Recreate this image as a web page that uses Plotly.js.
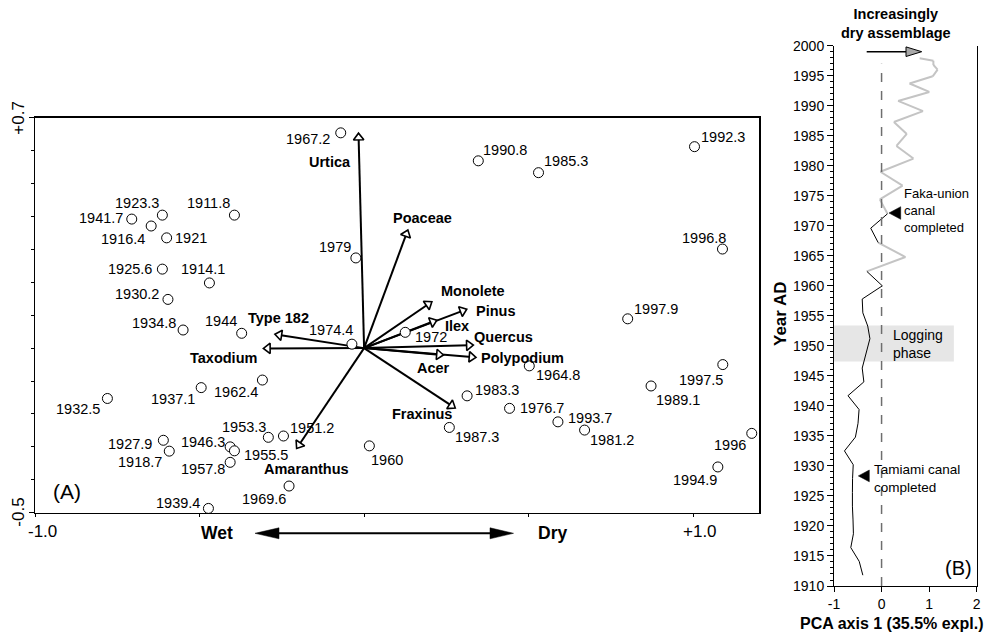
<!DOCTYPE html>
<html>
<head>
<meta charset="utf-8">
<script src="https://cdn.plot.ly/plotly-3.0.1.min.js"></script>
<style>html,body{margin:0;padding:0;background:#fff;}#chart{width:989px;height:634px;}</style>
</head>
<body>
<div id="chart"></div>
<script>
// ---------------- DATA ----------------
// sample ages (year AD), ordered by age
const years = [1911.8, 1914.1, 1916.4, 1918.7, 1921, 1923.3, 1925.6, 1927.9, 1930.2, 1932.5,
  1934.8, 1937.1, 1939.4, 1941.7, 1944, 1946.3, 1951.2, 1953.3, 1955.5, 1957.8,
  1960, 1962.4, 1964.8, 1967.2, 1969.6, 1972, 1974.4, 1976.7, 1979, 1981.2,
  1983.3, 1985.3, 1987.3, 1989.1, 1990.8, 1992.3, 1993.7, 1994.9, 1996, 1996.8, 1997.5, 1997.9];
// PCA axis 1 sample scores
const pc1 = [-0.394, -0.470, -0.647, -0.592, -0.600, -0.613, -0.613, -0.610, -0.596, -0.780,
  -0.550, -0.495, -0.473, -0.706, -0.372, -0.407, -0.245, -0.291, -0.394, -0.407,
  0.016, -0.309, 0.502, -0.071, -0.228, 0.125, -0.037, 0.442, -0.025, 0.670,
  0.313, 0.530, 0.259, 0.872, 0.347, 1.004, 0.589, 1.075, 1.178, 1.089, 1.090, 0.801];
// PCA axis 2 sample scores
const pc2 = [0.404, 0.198, 0.371, -0.313, 0.335, 0.404, 0.240, -0.280, 0.148, -0.153,
  0.055, -0.120, -0.487, 0.392, 0.045, -0.300, -0.267, -0.271, -0.312, -0.347,
  -0.297, -0.097, -0.054, 0.654, -0.419, 0.048, 0.012, -0.183, 0.274, -0.249,
  -0.145, 0.533, -0.241, -0.115, 0.569, 0.612, -0.224, -0.361, -0.259, 0.301, -0.050, 0.089];
// species loadings (arrow tips)
const species = ['Urtica', 'Poaceae', 'Monolete', 'Pinus', 'Ilex', 'Quercus', 'Polypodium',
  'Acer', 'Fraxinus', 'Amaranthus', 'Taxodium', 'Type 182'];
const loadX = [-0.017, 0.133, 0.206, 0.312, 0.221, 0.332, 0.340, 0.241, 0.277, -0.205, -0.306, -0.271];
const loadY = [0.653, 0.359, 0.141, 0.118, 0.085, 0.009, -0.028, -0.021, -0.182, -0.305, -0.001, 0.042];
// periods drawn in grey on the axis-1 profile
const greyPeriods = [[1962.4, 1967.2], [1972, 1997.9]];
// tick labels
const xTickVals = [-1, 1], xTickText = ['-1.0', '+1.0'];
const yTickVals = [-0.5, 0.7], yTickText = ['-0.5', '+0.7'];
const x2TickVals = [-1, 0, 1, 2], x2TickText = ['-1', '0', '1', '2'];

// ---------------- STYLE ----------------
const FONT = 'Liberation Sans, Arial, Helvetica, sans-serif';
// label offsets (px, dx right, dy down) for each sample label
const labelDx = [-25.8, -6.1, -28.2, -29.3, 24.8, -25.1, -32, -33.8, -30.8, -29,
  -28.8, -27.7, -30.5, -30.5, -21, -27.2, 28.9, -24.1, 31.2, -27.2,
  17.2, -26.8, 28.5, -33.2, -24.8, 25.8, -20.5, 32.4, -20.7, 27,
  30, 27, 27.9, 26.8, 27, 28.7, 31.8, -23.2, -22, -18.6, -21.4, 28];
const labelDy = [-12, -14.4, 13, 10.7, 0.6, -11.7, 0, 3.3, -5.3, 10.7,
  -6.7, 11, -5.6, -0.7, -12.6, -5, -8.3, -10.6, 4.3, 7,
  14.3, 11.7, 9.3, 6.6, 13.3, 5, -14, 0, -11, 10,
  -5.7, -11.7, 10, 13.6, -10.7, -10, -3.4, 13.3, 11.7, -11.3, 15.7, -9.7];
const spDx = [-28.3, 15, 41, 29, 20, 30, 47, -10, -33.3, 10, -40, 3.3];
const spDy = [28.4, -11.7, -10.7, 1.7, 6, -7.7, 1, 13.3, 5.6, 20, 10, -16.6];

const W = 989, H = 634;
const X1 = [35, 759], Y1 = [117.7, 512.7];     // pixel box of panel A
const X2 = [834, 976.7], Y2 = [45.7, 586];     // pixel box of panel B
const px = v => v / W, py = v => 1 - v / H;

// ---------------- PANEL A: arrows ----------------
const xr = [-1, 1.2], yr = [-0.5, 0.7];
const scale = (X1[1] - X1[0]) / (xr[1] - xr[0]); // px per unit
const headSize = 9, headR = headSize / 2 / scale;
const arrX = [], arrY = [], headX = [], headY = [], headA = [];
species.forEach((s, i) => {
  const tx = loadX[i], ty = loadY[i];
  const len = Math.hypot(tx, ty);
  const ux = tx / len, uy = ty / len;
  const cx = tx - ux * headR, cy = ty - uy * headR;
  arrX.push(0, cx, null); arrY.push(0, cy, null);
  headX.push(cx); headY.push(cy);
  headA.push(Math.atan2(ux, uy) * 180 / Math.PI);
});

const traces = [];
traces.push({type: 'scatter', mode: 'lines', x: arrX, y: arrY, xaxis: 'x', yaxis: 'y',
  line: {color: '#000', width: 2}, hoverinfo: 'skip'});
traces.push({type: 'scatter', mode: 'markers', x: headX, y: headY, xaxis: 'x', yaxis: 'y',
  marker: {symbol: 'triangle-up', size: headSize, angle: headA, angleref: 'up',
    color: '#fff', line: {color: '#000', width: 1.6}}, hoverinfo: 'skip'});
traces.push({type: 'scatter', mode: 'markers', x: pc1, y: pc2, xaxis: 'x', yaxis: 'y',
  cliponaxis: false,
  marker: {symbol: 'circle', size: 10, color: '#fff', line: {color: '#000', width: 1}},
  hoverinfo: 'skip'});

// ---------------- PANEL B: profile ----------------
const inGrey = (a, b) => greyPeriods.some(p => a >= p[0] && b <= p[1]);
const bx = [], by = [], gx = [], gy = [];
for (let i = 0; i < years.length - 1; i++) {
  const g = inGrey(years[i], years[i + 1]);
  (g ? gx : bx).push(pc1[i], pc1[i + 1], null);
  (g ? gy : by).push(years[i], years[i + 1], null);
}
traces.push({type: 'scatter', mode: 'lines', x: gx, y: gy, xaxis: 'x2', yaxis: 'y2',
  line: {color: '#c4c4c4', width: 2}, hoverinfo: 'skip'});
traces.push({type: 'scatter', mode: 'lines', x: bx, y: by, xaxis: 'x2', yaxis: 'y2',
  line: {color: '#000', width: 1}, hoverinfo: 'skip'});

// ---------------- ANNOTATIONS ----------------
const ann = [];
years.forEach((yv, i) => {
  ann.push({x: pc1[i], y: pc2[i], xref: 'x', yref: 'y', text: String(yv), showarrow: false,
    xanchor: 'center', yanchor: 'middle', xshift: labelDx[i], yshift: -labelDy[i],
    font: {family: FONT, size: 14.5, color: '#000'}});
});
species.forEach((s, i) => {
  ann.push({x: loadX[i], y: loadY[i], xref: 'x', yref: 'y', text: '<b>' + s + '</b>', showarrow: false,
    xanchor: 'center', yanchor: 'middle', xshift: spDx[i], yshift: -spDy[i],
    font: {family: FONT, size: 14.5, color: '#000'}});
});
xTickVals.forEach((v, i) => {
  ann.push({x: v, y: py(531), xref: 'x', yref: 'paper', text: xTickText[i], showarrow: false,
    xanchor: 'center', yanchor: 'middle', xshift: 7, font: {family: FONT, size: 17, color: '#000'}});
});
yTickVals.forEach((v, i) => {
  ann.push({x: px(19), y: v, xref: 'paper', yref: 'y', text: yTickText[i], showarrow: false,
    textangle: -90, xanchor: 'center', yanchor: 'middle', font: {family: FONT, size: 17, color: '#000'}});
});
const txt = (x, y, t, o) => Object.assign({x: px(x), y: py(y), xref: 'paper', yref: 'paper', text: t,
  showarrow: false, xanchor: 'center', yanchor: 'middle', font: {family: FONT, size: 14, color: '#000'}}, o || {});
ann.push(txt(216.7, 533.3, '<b>Wet</b>', {font: {family: FONT, size: 17.5, color: '#000'}}));
ann.push(txt(552.8, 533.3, '<b>Dry</b>', {font: {family: FONT, size: 17.5, color: '#000'}}));
ann.push(txt(66.7, 491.7, '(A)', {font: {family: FONT, size: 21, color: '#000'}}));
ann.push(txt(896, 24, '<b>Increasingly<br>dry assemblage</b>', {font: {family: FONT, size: 14.5, color: '#000'}}));
ann.push(txt(780, 314, '<b>Year AD</b>', {textangle: -90, font: {family: FONT, size: 17, color: '#000'}}));
ann.push(txt(891.7, 623.3, '<b>PCA axis 1 (35.5% expl.)</b>', {font: {family: FONT, size: 16, color: '#000'}}));
ann.push(txt(902, 210.5, 'Faka-union<br>canal<br>completed', {xanchor: 'left', align: 'left',
  font: {family: FONT, size: 13, color: '#000'}}));
ann.push(txt(872, 478.5, 'Tamiami canal<br>completed', {xanchor: 'left', align: 'left',
  font: {family: FONT, size: 13.5, color: '#000'}}));
ann.push(txt(891, 344, 'Logging<br>phase', {xanchor: 'left', align: 'left',
  font: {family: FONT, size: 14, color: '#000'}}));
ann.push(txt(958.3, 568, '(B)', {font: {family: FONT, size: 20, color: '#000'}}));

// ---------------- SHAPES ----------------
const tri = (pts) => 'M' + pts.map(p => px(p[0]) + ',' + py(p[1])).join(' L') + ' Z';
const shapes = [
  {type: 'rect', xref: 'x2', yref: 'y2', x0: -1, x1: 1.52, y0: 1947.4, y1: 1953.4,
    fillcolor: '#e6e6e6', line: {width: 0}, layer: 'below'},
  {type: 'line', xref: 'x2', yref: 'y2', x0: 0, x1: 0, y0: 1910, y1: 1997,
    line: {color: '#6e6e6e', width: 1.5, dash: 'dash'}},
  // "increasingly dry" arrow
  {type: 'line', xref: 'paper', yref: 'paper', x0: px(866.7), x1: px(907), y0: py(51.7), y1: py(51.7),
    line: {color: '#000', width: 1.6}},
  {type: 'path', xref: 'paper', yref: 'paper', path: tri([[906, 46.9], [921.7, 51.7], [906, 56.5]]),
    fillcolor: '#a8a8a8', line: {color: '#000', width: 1}},
  // canal markers
  {type: 'path', xref: 'paper', yref: 'paper', path: tri([[900.7, 206.7], [889, 213], [900.7, 219.3]]),
    fillcolor: '#000', line: {color: '#000', width: 0.5}},
  {type: 'path', xref: 'paper', yref: 'paper', path: tri([[869.3, 470], [858.3, 475.9], [869.3, 481.8]]),
    fillcolor: '#000', line: {color: '#000', width: 0.5}},
  // wet-dry arrow
  {type: 'line', xref: 'paper', yref: 'paper', x0: px(270), x1: px(500), y0: py(533.3), y1: py(533.3),
    line: {color: '#000', width: 2}},
  {type: 'path', xref: 'paper', yref: 'paper', path: tri([[279, 527.8], [255, 533.3], [279, 538.8]]),
    fillcolor: '#000', line: {color: '#000', width: 0.5}},
  {type: 'path', xref: 'paper', yref: 'paper', path: tri([[490, 527.8], [513.5, 533.3], [490, 538.8]]),
    fillcolor: '#000', line: {color: '#000', width: 0.5}}
];

const layout = {
  width: W, height: H, margin: {l: 0, r: 0, t: 0, b: 0},
  paper_bgcolor: '#fff', plot_bgcolor: 'rgba(0,0,0,0)', showlegend: false,
  font: {family: FONT, color: '#000'},
  xaxis: {domain: [px(X1[0]), px(X1[1])], range: xr, anchor: 'y', showline: true, mirror: true,
    linecolor: '#000', linewidth: 1.5, showgrid: false, zeroline: false,
    tickmode: 'array', tickvals: [-1, -0.5, 0, 0.5, 1], ticks: 'outside', ticklen: 3,
    tickcolor: '#000', showticklabels: false},
  yaxis: {domain: [py(Y1[1]), py(Y1[0])], range: yr, anchor: 'x', showline: true, mirror: true,
    linecolor: '#000', linewidth: 1.5, showgrid: false, zeroline: false,
    tickmode: 'array', tickvals: yTickVals, ticks: 'outside', ticklen: 5, tickcolor: '#000',
    showticklabels: false,
    minor: {tickmode: 'linear', tick0: -0.5, dtick: 0.1, ticks: 'outside', ticklen: 3, tickcolor: '#000', showgrid: false}},
  xaxis2: {domain: [px(X2[0]), px(X2[1])], range: [-1, 2], anchor: 'y2', showline: true, mirror: false,
    linecolor: '#000', linewidth: 1, showgrid: false, zeroline: false,
    tickmode: 'array', tickvals: x2TickVals, ticktext: x2TickText, ticks: 'outside', ticklen: 5, tickcolor: '#000',
    tickfont: {family: FONT, size: 14, color: '#000'}},
  yaxis2: {domain: [py(Y2[1]), py(Y2[0])], range: [1910, 2000], anchor: 'x2', showline: true, mirror: true,
    linecolor: '#000', linewidth: 1, showgrid: false, zeroline: false,
    tickmode: 'linear', tick0: 1910, dtick: 5, ticks: 'outside', ticklen: 6, tickcolor: '#000',
    tickfont: {family: FONT, size: 14, color: '#000'},
    minor: {tickmode: 'linear', tick0: 1910, dtick: 1, ticks: 'outside', ticklen: 3, tickcolor: '#000', showgrid: false}},
  annotations: ann,
  shapes: shapes
};

Plotly.newPlot('chart', traces, layout, {displayModeBar: false, staticPlot: true});
</script>
</body>
</html>
